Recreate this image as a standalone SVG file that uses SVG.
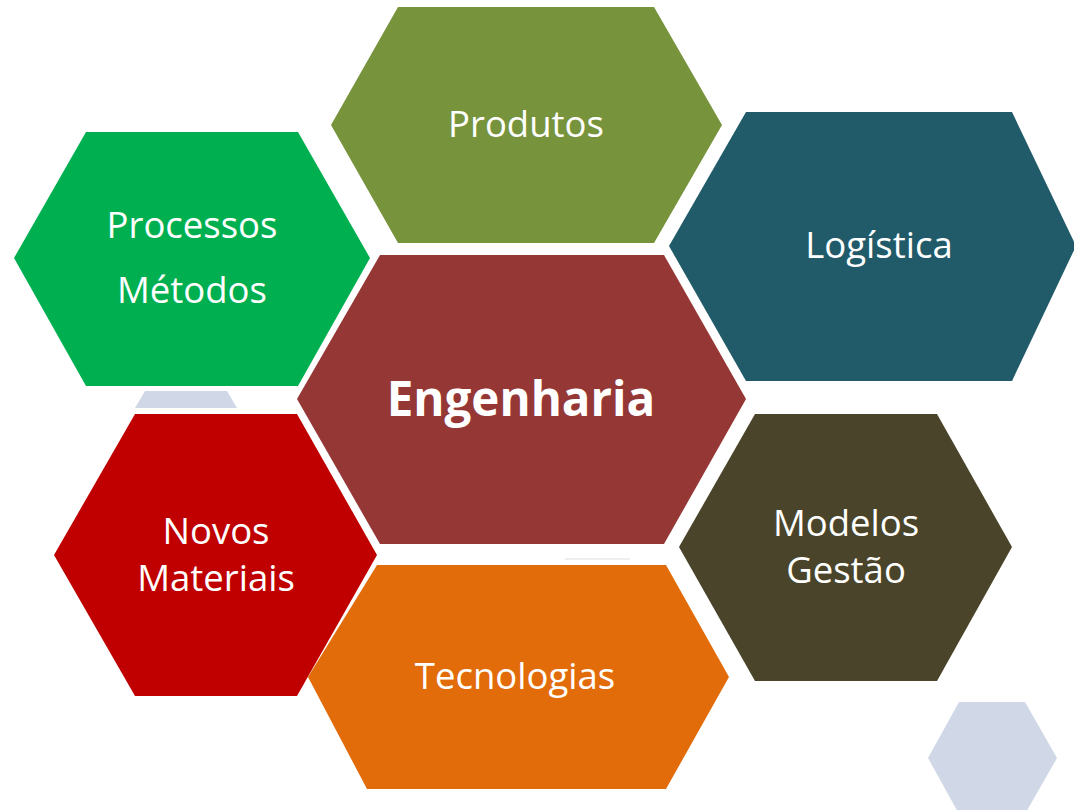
<svg xmlns="http://www.w3.org/2000/svg" width="1074" height="810" viewBox="0 0 1074 810">
<style>
.lbl{font-family:"Open Sans","Liberation Sans",sans-serif;font-size:36.5px;fill:#ffffff;text-anchor:middle}
.big{font-family:"Open Sans","Liberation Sans",sans-serif;font-size:47.5px;font-weight:bold;fill:#ffffff;text-anchor:middle}
.deco{fill:#D0D7E7}
</style>
<rect width="1074" height="810" fill="#ffffff"/>
<g id="deco">
<polygon class="deco" points="145,391 227,391 237,408 135,408"/>
<polygon class="deco" points="959,702 1025,702 1057,758 1025,814 959,814 928,758"/>
<line x1="565" y1="559" x2="630" y2="559" stroke="#E8E8E8" stroke-width="1.5"/>
</g>
<g id="produtos">
<polygon points="398,7 654,7 722,125 654,243 398,243 331,125" fill="#77933C"/>
<text class="lbl" x="526" y="137">Produtos</text>
</g>
<g id="processos">
<polygon points="86,132 298,132 370,258 298,386 86,386 14,258" fill="#00B050"/>
<text class="lbl" x="192" y="238">Processos</text>
<text class="lbl" x="192" y="303">Métodos</text>
</g>
<g id="logistica">
<polygon points="746,112 1012,112 1076,246 1012,381 746,381 669,246" fill="#215A69"/>
<text class="lbl" x="879" y="258">Logística</text>
</g>
<g id="engenharia">
<polygon points="380,255 664,255 746,399 664,544 380,544 297,399" fill="#953735"/>
<text class="big" x="521" y="416">Engenharia</text>
</g>
<g id="novos-materiais">
<polygon points="135,414 297,414 377,555 297,696 135,696 54,555" fill="#C00000"/>
<text class="lbl" x="216" y="544">Novos</text>
<text class="lbl" x="216" y="591">Materiais</text>
</g>
<g id="tecnologias">
<polygon points="377,565 666,565 729,677 666,789 367,789 308,677" fill="#E36C0A"/>
<text class="lbl" x="515" y="689">Tecnologias</text>
</g>
<g id="modelos-gestao">
<polygon points="755,414 937,414 1012,547 937,681 755,681 679,547" fill="#4A452A"/>
<text class="lbl" x="846" y="536">Modelos</text>
<text class="lbl" x="846" y="583">Gestão</text>
</g>
</svg>
